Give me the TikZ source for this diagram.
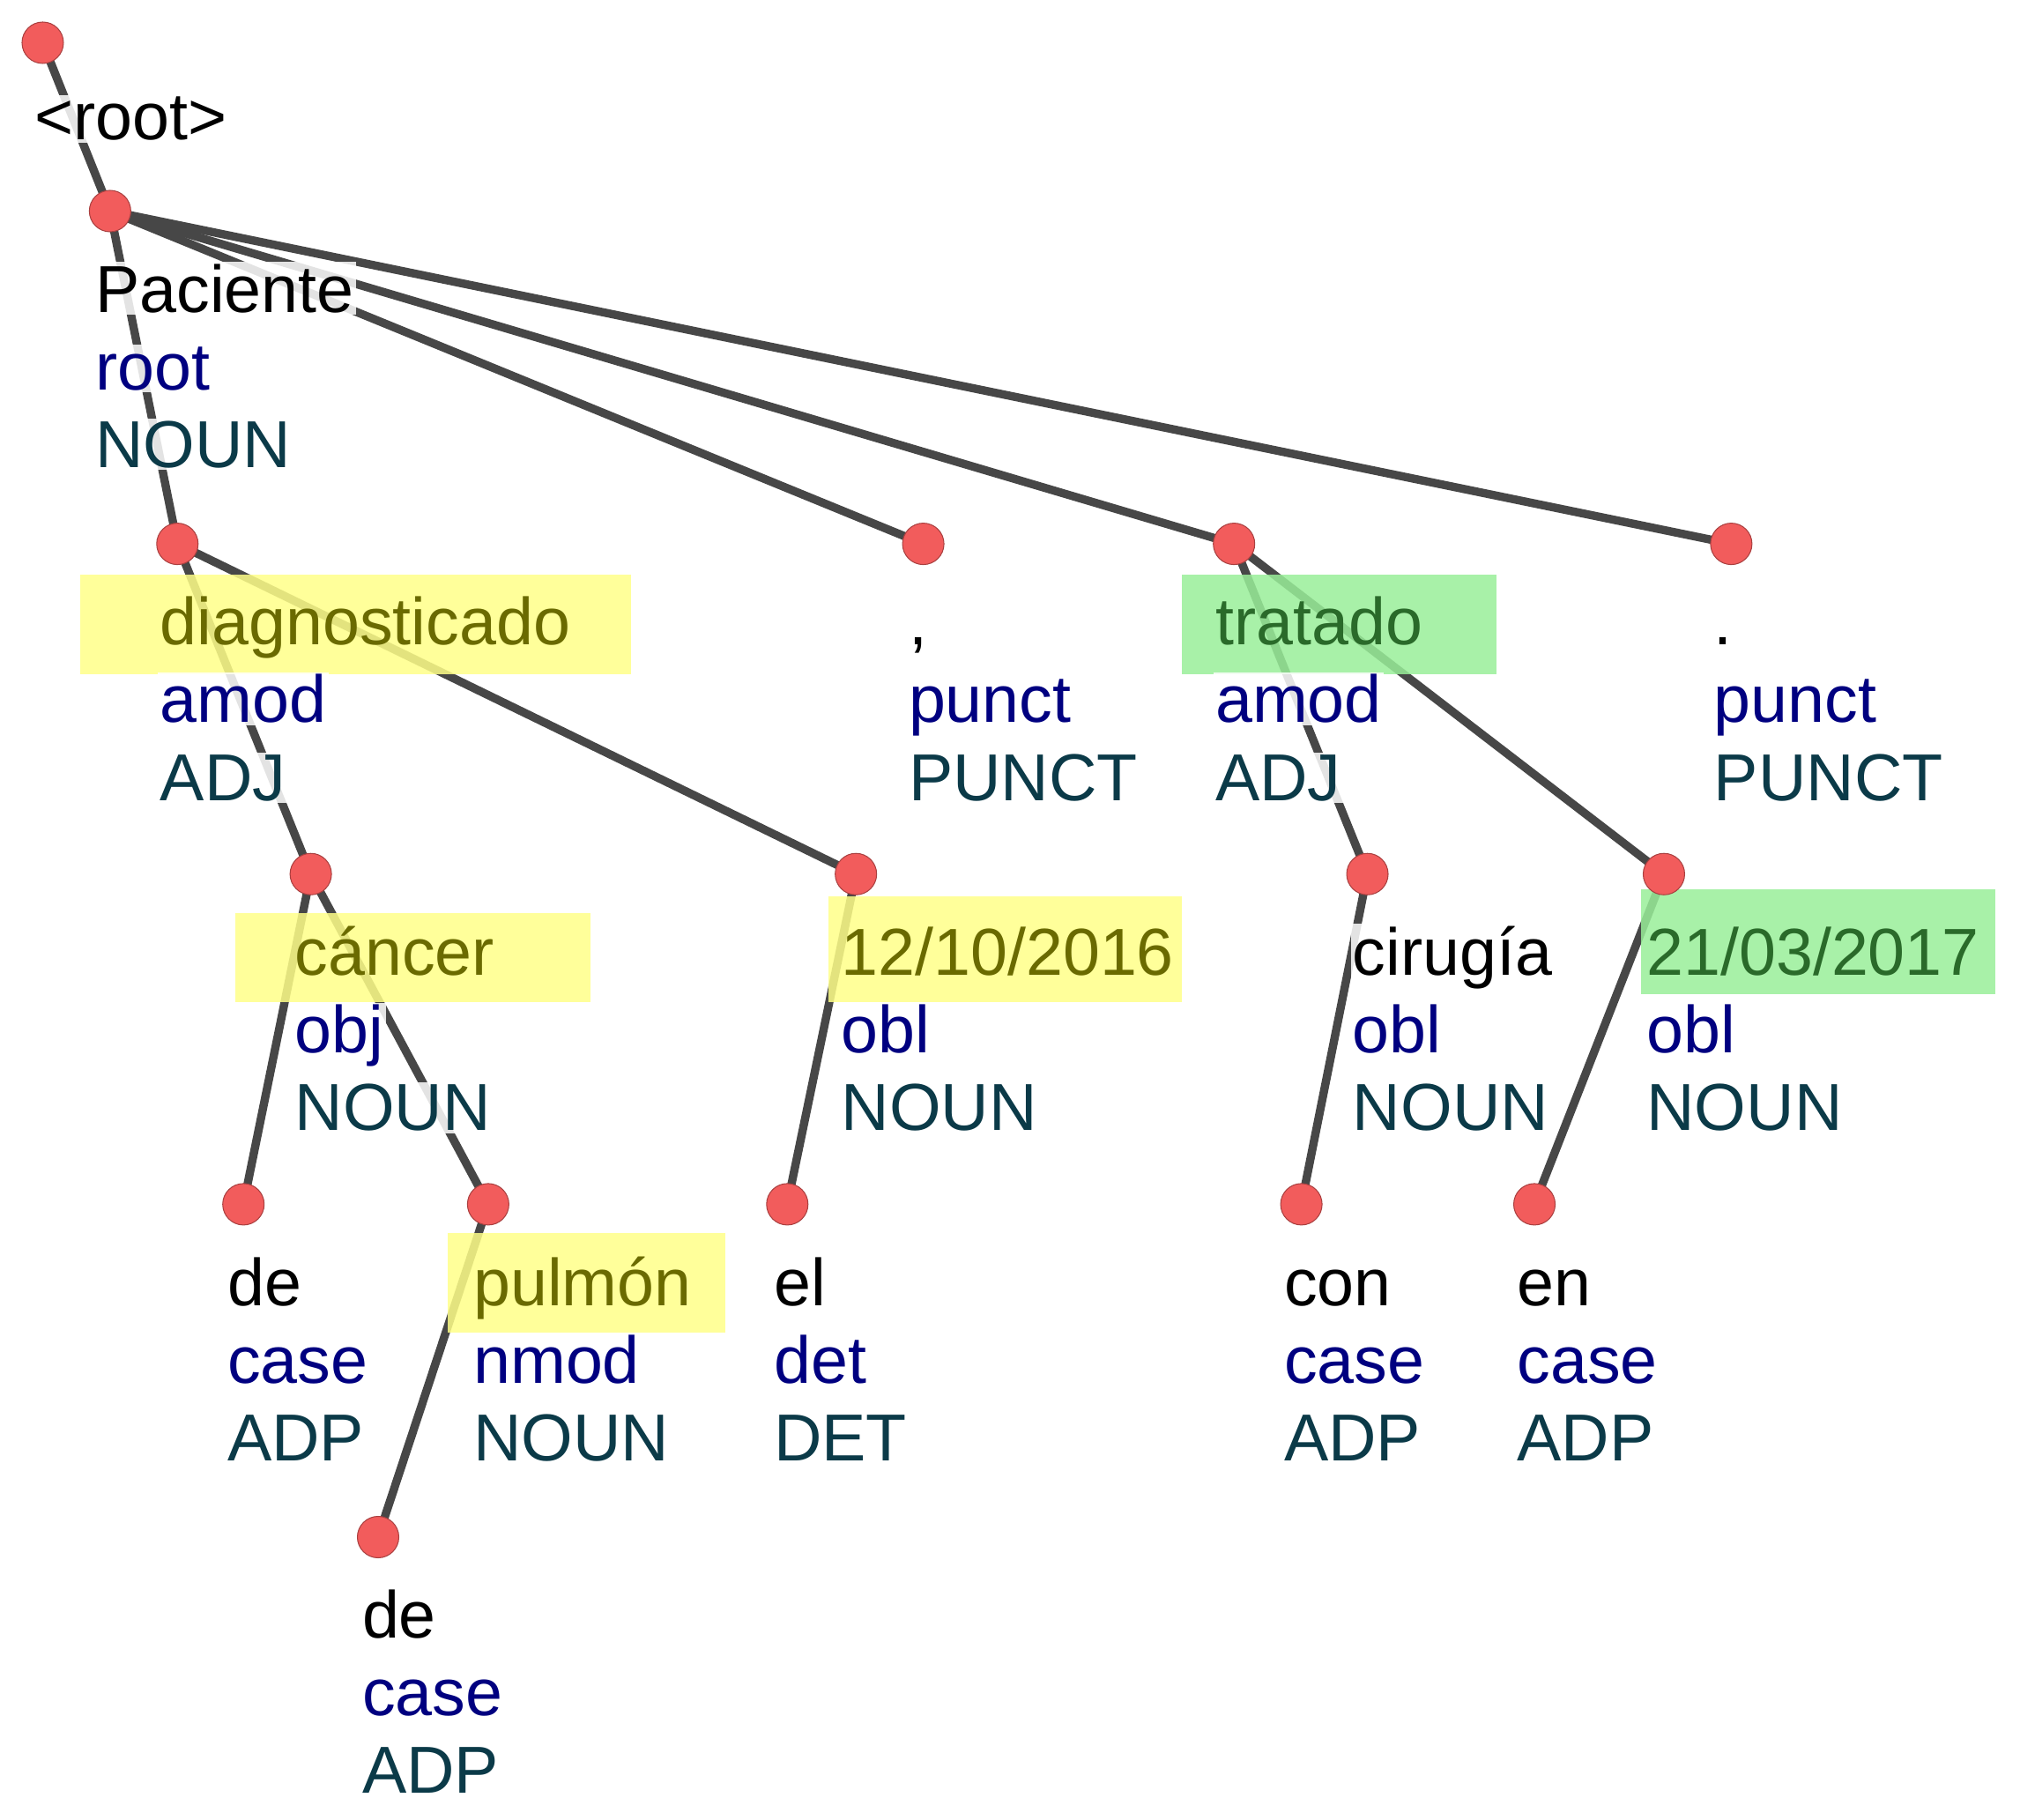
\documentclass[tikz,border=0pt]{standalone}
\usepackage{fontspec}
\setmainfont{Liberation Sans}
\definecolor{edge}{HTML}{474747}
\definecolor{reln}{HTML}{000080}
\definecolor{posc}{HTML}{0B3A48}
\definecolor{olive}{HTML}{6A6A00}
\definecolor{oliveg}{HTML}{2A6A2A}
\definecolor{hy}{HTML}{FFFF88}
\definecolor{hg}{HTML}{99EE99}
\definecolor{dotc}{HTML}{F25C5C}
\begin{document}
\begin{tikzpicture}[x=0.05cm,y=-0.05cm,
 edge/.style={draw=edge,line width=0.32cm,line cap=round},
 dot/.style={circle,fill=dotc,draw=dotc!70!black,line width=1pt,minimum size=1.6cm,inner sep=0pt},
 txt/.style={font=\fontsize{73}{86.5}\selectfont,anchor=base west,inner sep=0.08cm,fill=white,fill opacity=0.85,text opacity=1},
 hl/.style={fill opacity=0.85,draw=none},
]
\useasboundingbox (0,0) rectangle (1560,1405);
\foreach \n/\x/\y in {R/33/33,P/85/163,D/137/420,C1/713/420,T/953/420,C2/1337/420,
 CA/240/675,F1/661/675,CI/1056/675,F2/1285/675,DE1/188/930,PU/377/930,EL/608/930,
 CO/1005/930,EN/1185/930,DE2/292/1187}
 \coordinate (\n) at (\x,\y);
\draw[edge] (R) -- (P);
\draw[edge] (P) -- (D);
\draw[edge] (P) -- (C1);
\draw[edge] (P) -- (T);
\draw[edge] (P) -- (C2);
\draw[edge] (D) -- (CA);
\draw[edge] (D) -- (F1);
\draw[edge] (T) -- (CI);
\draw[edge] (T) -- (F2);
\draw[edge] (CA) -- (DE1);
\draw[edge] (CA) -- (PU);
\draw[edge] (F1) -- (EL);
\draw[edge] (CI) -- (CO);
\draw[edge] (F2) -- (EN);
\draw[edge] (PU) -- (DE2);
\fill[hy,hl] (62,444) rectangle (487,521);
\fill[hg,hl] (913,444) rectangle (1156,521);
\fill[hy,hl] (182,705) rectangle (456,774);
\fill[hy,hl] (640,692) rectangle (913,774);
\fill[hg,hl] (1267,687) rectangle (1541,768);
\fill[hy,hl] (346,952) rectangle (560,1029);
\node[txt] (Rw) at (25,108) {<root>};
\newcommand\tokx[7]{% name, textx, doty, word, rel, pos, word style
 \pgfmathsetmacro\ya{#3+78}\pgfmathsetmacro\yb{#3+138}\pgfmathsetmacro\yc{#3+198}%
 \node[txt,#7] (#1w) at (#2,\ya) {#4};
 \node[txt,text=reln] (#1r) at (#2,\yb) {#5};
 \node[txt,text=posc] (#1p) at (#2,\yc) {#6};}
\tikzset{plain/.style={text=black},hly/.style={fill=none,text=olive},hlg/.style={fill=none,text=oliveg}}
\tokx{P}{72}{163}{Paciente}{root}{NOUN}{plain}
\tokx{D}{122}{420}{diagnosticado}{amod}{ADJ}{hly}
\tokx{C1}{700}{420}{,}{punct}{PUNCT}{plain}
\tokx{T}{937}{420}{tratado}{amod}{ADJ}{hlg}
\tokx{C2}{1322}{420}{.}{punct}{PUNCT}{plain}
\tokx{CA}{226}{675}{cáncer}{obj}{NOUN}{hly}
\tokx{F1}{648}{675}{12/10/2016}{obl}{NOUN}{hly}
\tokx{CI}{1043}{675}{cirugía}{obl}{NOUN}{plain}
\tokx{F2}{1270}{675}{21/03/2017}{obl}{NOUN}{hlg}
\tokx{DE1}{174}{930}{de}{case}{ADP}{plain}
\tokx{PU}{364}{930}{pulmón}{nmod}{NOUN}{hly}
\tokx{EL}{596}{930}{el}{det}{DET}{plain}
\tokx{CO}{990}{930}{con}{case}{ADP}{plain}
\tokx{EN}{1170}{930}{en}{case}{ADP}{plain}
\tokx{DE2}{278}{1187}{de}{case}{ADP}{plain}
\foreach \n in {R,P,D,C1,T,C2,CA,F1,CI,F2,DE1,PU,EL,CO,EN,DE2}
 \node[dot] (\n d) at (\n) {};
\end{tikzpicture}
\end{document}
